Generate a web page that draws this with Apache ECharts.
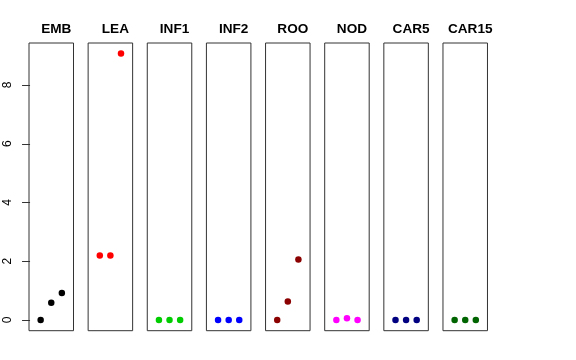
<!DOCTYPE html>
<html><head><meta charset="utf-8">
<script src="https://cdn.jsdelivr.net/npm/echarts@6/dist/echarts.min.js"></script>
<style>html,body{margin:0;padding:0;background:#fff}#c{width:576px;height:360px}</style>
</head><body><div id="c"></div>
<script>
const categories = ['EMB','LEA','INF1','INF2','ROO','NOD','CAR5','CAR15'];
const colors = ['#000000','#FF0000','#00CD00','#0000FF','#8B0000','#FF00FF','#000080','#006400'];
const EMB = [0, 0.59, 0.92];
const LEA = [2.2, 2.2, 9.07];
const INF1 = [0, 0, 0];
const INF2 = [0, 0, 0];
const ROO = [0, 0.63, 2.06];
const NOD = [0, 0.06, 0];
const CAR5 = [0, 0, 0];
const CAR15 = [0, 0, 0];
const seriesValues = [EMB, LEA, INF1, INF2, ROO, NOD, CAR5, CAR15];
const yTicks = [0, 2, 4, 6, 8];

const chart = echarts.init(document.getElementById('c'));
const L0 = 29, step = 59.14, W = 44.5, TOP = 43, H = 287.7;
const grids = [], xAxes = [], yAxes = [], series = [], titles = [];
categories.forEach((name, i) => {
  const left = L0 + i * step;
  grids.push({left: left, top: TOP, width: W, height: H, show: true, borderColor: '#333', borderWidth: 1, backgroundColor: 'transparent'});
  xAxes.push({type: 'value', gridIndex: i, min: -0.1, max: 4.1, show: false});
  yAxes.push({
    type: 'value', gridIndex: i, min: -0.363, max: 9.43, show: i === 0,
    splitLine: {show: false},
    axisLine: {show: false},
    axisTick: {show: true, length: 8, lineStyle: {color: '#333'}, customValues: yTicks},
    axisLabel: {show: true, rotate: 90, margin: 15, fontSize: 12, color: '#000', fontFamily: 'Liberation Sans', customValues: yTicks}
  });
  series.push({
    type: 'scatter', xAxisIndex: i, yAxisIndex: i, symbolSize: 6.5,
    itemStyle: {color: colors[i], opacity: 1},
    data: seriesValues[i].map((v, k) => [k + 1, v]),
    silent: true, animation: false
  });
  titles.push({text: name, left: left + W / 2, top: 17, textAlign: 'center',
    textStyle: {fontSize: 13.6, fontWeight: 'bold', color: '#000', fontFamily: 'Liberation Sans'}});
});
chart.setOption({animation: false, title: titles, grid: grids, xAxis: xAxes, yAxis: yAxes, series: series});
</script></body></html>
